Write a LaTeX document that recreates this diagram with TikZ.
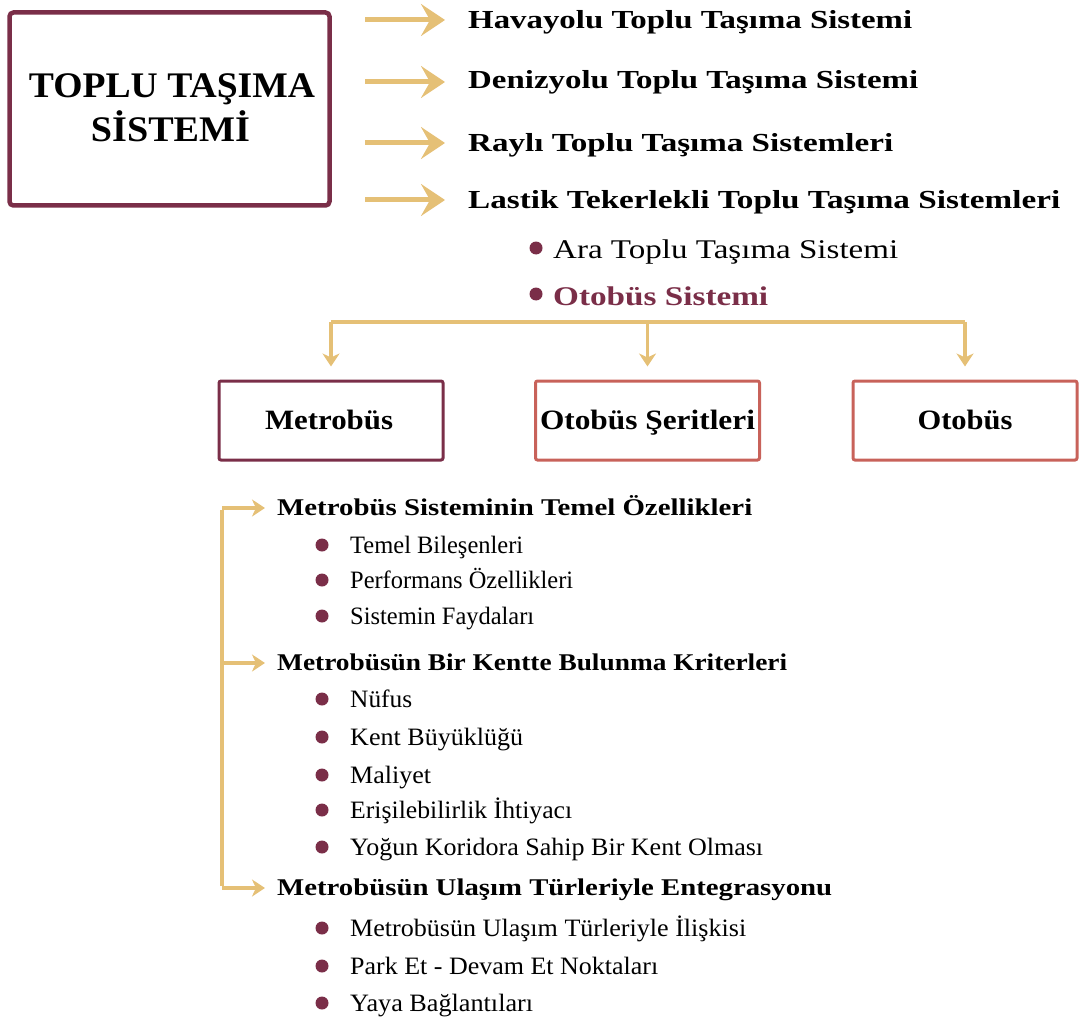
\documentclass[tikz,border=0pt]{standalone}
\usepackage{fontspec}
\setmainfont{Liberation Serif}
\usepackage{graphicx}
\usetikzlibrary{arrows.meta}
\definecolor{maroon}{RGB}{122,46,72}
\definecolor{salmon}{RGB}{200,98,90}
\definecolor{gold}{RGB}{229,192,118}
\newcommand{\fitt}[3]{\resizebox{#1pt}{\height}{\fontsize{#2}{#2}\selectfont #3}}
\tikzset{
  txt/.style={anchor=base west, inner sep=0pt},
  ctxt/.style={anchor=base, inner sep=0pt},
  bigarrow/.style={draw=gold, line width=5pt, -{Stealth[length=24pt,width=32pt,inset=9pt]}},
  smallarrow/.style={draw=gold, line width=3.5pt, -{Stealth[length=13pt,width=17pt,inset=4pt]}},
  goldline/.style={draw=gold, line width=3.5pt},
  catbox/.style={draw=#1, line width=3pt, rounded corners=2pt, minimum width=224pt, minimum height=79pt, inner sep=0pt},
  dot/.style={circle, fill=maroon, inner sep=0pt, minimum size=#1},
}
\begin{document}
\begin{tikzpicture}[x=1pt,y=-1pt]
\useasboundingbox (0,0) rectangle (1084,1019);
% main box
\node[draw=maroon, line width=4.5pt, rounded corners=4pt, minimum width=320pt, minimum height=193pt, inner sep=0pt] (main) at (169.5,109) {};
\node[ctxt] (title1) at (172,98) {\fitt{286}{36}{\bfseries TOPLU TAŞIMA}};
\node[ctxt] (title2) at (170.5,142) {\fitt{159}{36}{\bfseries SİSTEMİ}};
% top list
\node[txt] (t1) at (468,29) {\fitt{444}{26}{\bfseries Havayolu Toplu Taşıma Sistemi}};
\node[txt] (t2) at (468,89) {\fitt{450}{26}{\bfseries Denizyolu Toplu Taşıma Sistemi}};
\node[txt] (t3) at (468,152) {\fitt{425}{26}{\bfseries Raylı Toplu Taşıma Sistemleri}};
\node[txt] (t4) at (468,208) {\fitt{592}{26}{\bfseries Lastik Tekerlekli Toplu Taşıma Sistemleri}};
\coordinate (a1) at (365,20);
\coordinate (a2) at (365,82);
\coordinate (a3) at (365,143);
\coordinate (a4) at (365,200);
\draw[bigarrow] (a1) -- (445,20);
\draw[bigarrow] (a2) -- (445,82);
\draw[bigarrow] (a3) -- (445,143);
\draw[bigarrow] (a4) -- (445,200);
\node[dot=13pt] (d1) at (536,248) {};
\node[dot=13pt] (d2) at (536,294) {};
\node[txt] (s1) at (553,258) {\fitt{345}{27}{Ara Toplu Taşıma Sistemi}};
\node[txt, text=maroon] (s2) at (553,305) {\fitt{215}{27}{\bfseries Otobüs Sistemi}};
% category boxes
\node[catbox=maroon] (mb) at (331,420.5) {};
\node[catbox=salmon] (os) at (647.5,420.5) {};
\node[catbox=salmon] (ob) at (965,420.5) {};
\node[ctxt] at (329,429) {\fitt{128}{28}{\bfseries Metrobüs}};
\node[ctxt] at (647.5,429) {\fitt{215}{28}{\bfseries Otobüs Şeritleri}};
\node[ctxt] at (965,429) {\fitt{95}{28}{\bfseries Otobüs}};
\coordinate (hl) at (331,322);
\coordinate (hm) at (647.5,322);
\coordinate (hr) at (965,322);
\draw[goldline] (hl) -- (hr);
\draw[smallarrow] (hl) -- ([yshift=13pt]mb.north);
\draw[smallarrow] (hm) -- ([yshift=13pt]os.north);
\draw[smallarrow] (hr) -- ([yshift=13pt]ob.north);
% bottom list
\node[txt] (h1) at (277,515) {\fitt{475}{24}{\bfseries Metrobüs Sisteminin Temel Özellikleri}};
\node[txt] (h2) at (277,670) {\fitt{510}{24}{\bfseries Metrobüsün Bir Kentte Bulunma Kriterleri}};
\node[txt] (h3) at (277,895) {\fitt{555}{24}{\bfseries Metrobüsün Ulaşım Türleriyle Entegrasyonu}};
\coordinate (bt) at (222,508);
\coordinate (bm) at (222,663);
\coordinate (bb) at (222,888);
\draw[goldline] ([yshift=-1.75pt]bt) -- ([yshift=1.75pt]bb);
\draw[smallarrow] (bt) -- (265,508);
\draw[smallarrow] (bm) -- (265,663);
\draw[smallarrow] (bb) -- (265,888);
\foreach \y/\w/\t [count=\i] in {
  553/173/Temel Bileşenleri,
  588/223/Performans Özellikleri,
  624/184/Sistemin Faydaları,
  707/62/Nüfus,
  745/173/Kent Büyüklüğü,
  783/81/Maliyet,
  818/222/Erişilebilirlik İhtiyacı,
  855/413/Yoğun Koridora Sahip Bir Kent Olması,
  936/396/Metrobüsün Ulaşım Türleriyle İlişkisi,
  974/308/Park Et - Devam Et Noktaları,
  1011/183/Yaya Bağlantıları}{
  \node[dot=13pt] (b\i) at (322,\y-8) {};
  \node[txt] (i\i) at (350,\y) {\fitt{\w}{25}{\t}};
}
\end{tikzpicture}
\end{document}
